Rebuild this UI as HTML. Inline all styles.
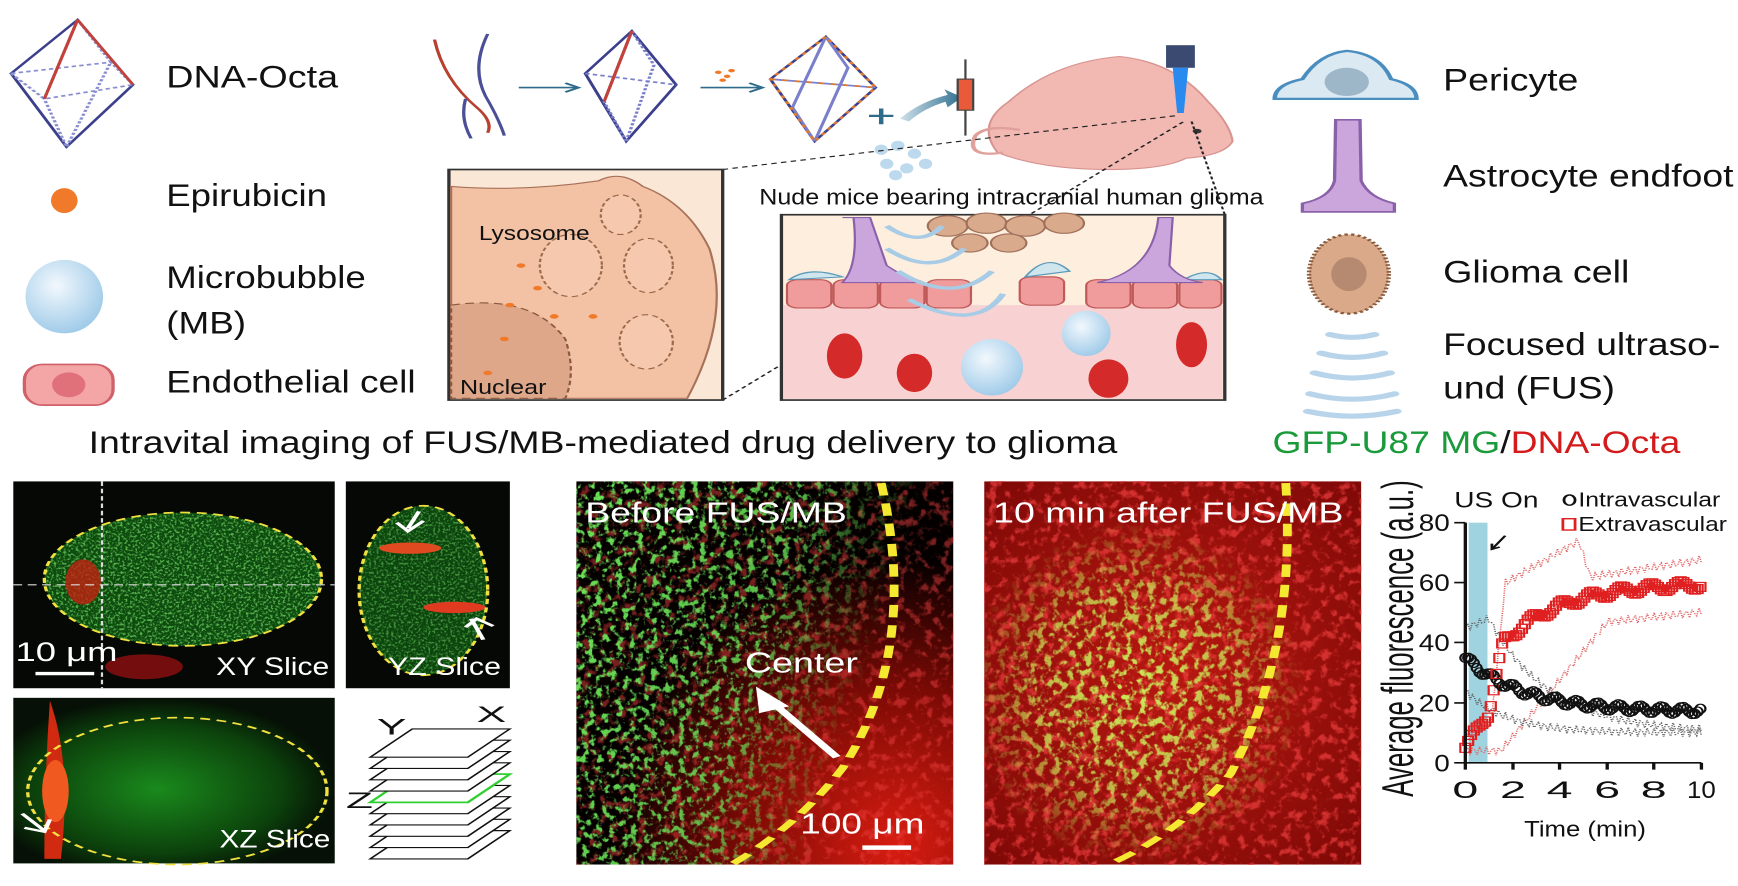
<!DOCTYPE html>
<html><head><meta charset="utf-8">
<style>
html,body{margin:0;padding:0;background:#fff;}
svg{display:block;}
text{font-family:"Liberation Sans",Arial,sans-serif;}
</style></head>
<body>
<svg id="s" width="1738" height="886" viewBox="0 0 1568 1568" preserveAspectRatio="none" xmlns="http://www.w3.org/2000/svg">
<defs>
 <radialGradient id="mb" cx="0.4" cy="0.35" r="0.7"><stop offset="0" stop-color="#f2f8fd"/><stop offset="1" stop-color="#9cc9e8"/></radialGradient>
 <linearGradient id="arr" x1="0" x2="1"><stop offset="0" stop-color="#cfe0ea"/><stop offset="1" stop-color="#2f6f8f"/></linearGradient>
 <filter id="spG" x="0" y="0" width="1" height="1"><feTurbulence type="fractalNoise" baseFrequency="0.16 0.08" numOctaves="3" seed="4"/><feColorMatrix values="0 0 0 0 0.15  0 0 0 0 0.8  0 0 0 0 0.1  6 0 0 0 -3.1"/></filter>
 <filter id="spG2" x="0" y="0" width="1" height="1"><feTurbulence type="fractalNoise" baseFrequency="0.14 0.07" numOctaves="3" seed="9"/><feColorMatrix values="0 0 0 0 0.6  0 0 0 0 0.85  0 0 0 0 0.1  6 0 0 0 -3.0"/></filter>
 <filter id="spR" x="0" y="0" width="1" height="1"><feTurbulence type="fractalNoise" baseFrequency="0.12 0.06" numOctaves="3" seed="2"/><feColorMatrix values="0 0 0 0 0.85  0 0 0 0 0.05  0 0 0 0 0.05  5 0 0 0 -2.6"/></filter>
 <filter id="spF" x="0" y="0" width="1" height="1"><feTurbulence type="fractalNoise" baseFrequency="0.45 0.25" numOctaves="2" seed="5"/><feColorMatrix values="0 0 0 0 0.2  0 0 0 0 0.75  0 0 0 0 0.15  4 0 0 0 -1.9"/></filter>
 <radialGradient id="bRed" cx="0.85" cy="0.95" r="0.75"><stop offset="0" stop-color="#d81c10"/><stop offset="0.55" stop-color="#7a0a05"/><stop offset="1" stop-color="#050000"/></radialGradient>
 <linearGradient id="mL" x1="0" x2="1" y1="0" y2="0.3"><stop offset="0" stop-color="#fff"/><stop offset="0.55" stop-color="#ccc"/><stop offset="0.85" stop-color="#000"/></linearGradient>
 <mask id="mkB"><rect x="520" y="852" width="340" height="678" fill="url(#mL)"/></mask>
 <radialGradient id="mC" cx="0.4" cy="0.55" r="0.45"><stop offset="0" stop-color="#fff"/><stop offset="0.6" stop-color="#bbb"/><stop offset="1" stop-color="#000"/></radialGradient>
 <mask id="mkA"><rect x="888" y="852" width="340" height="678" fill="url(#mC)"/></mask>
 <radialGradient id="aRed" cx="0.5" cy="0.5" r="0.75"><stop offset="0" stop-color="#b81810"/><stop offset="1" stop-color="#7a0806"/></radialGradient>
 <clipPath id="cXY"><ellipse cx="165" cy="1025" rx="125" ry="118"/></clipPath>
 <clipPath id="cYZ"><ellipse cx="382" cy="1045" rx="58" ry="150"/></clipPath>
 <radialGradient id="gXZ" cx="0.45" cy="0.55" r="0.55"><stop offset="0" stop-color="#1a8a1c"/><stop offset="0.7" stop-color="#0c420c"/><stop offset="1" stop-color="#061006"/></radialGradient>
</defs>

<!-- ===== Left legend ===== -->
<g fill="none" stroke-width="3">
 <g stroke="#3b3f8c">
  <path d="M70 35 L10 130 L60 260 L120 150 Z"/>
  <path d="M70 35 L40 175 L60 260 M70 35 L100 110 L60 260 M10 130 L100 110 L120 150 M10 130 L40 175 L120 150" stroke="#8a8fd0" stroke-dasharray="4 3"/>
 </g>
 <path d="M70 35 L120 150 M70 35 L40 175" stroke="#c2413a"/>
</g>
<text x="150" y="155" font-size="56" textLength="155" lengthAdjust="spacingAndGlyphs" fill="#111">DNA-Octa</text>
<ellipse cx="58" cy="355" rx="12" ry="22" fill="#f07a2a"/>
<text x="150" y="365" font-size="56" textLength="145" lengthAdjust="spacingAndGlyphs" fill="#111">Epirubicin</text>
<ellipse cx="58" cy="525" rx="35" ry="65" fill="url(#mb)"/>
<text x="150" y="510" font-size="56" textLength="180" lengthAdjust="spacingAndGlyphs" fill="#111">Microbubble</text>
<text x="150" y="590" font-size="56" textLength="72" lengthAdjust="spacingAndGlyphs" fill="#111">(MB)</text>
<rect x="22" y="645" width="80" height="72" rx="16" ry="28" fill="#f4a6a6" stroke="#d0606a" stroke-width="3"/>
<ellipse cx="62" cy="681" rx="15" ry="22" fill="#e0707a"/>
<text x="150" y="695" font-size="56" textLength="225" lengthAdjust="spacingAndGlyphs" fill="#111">Endothelial cell</text>

<!-- ===== Top scheme ===== -->
<g fill="none" stroke-width="3">
 <path d="M392 70 Q400 140 430 190 Q445 215 440 235" stroke="#b8402e"/>
 <path d="M440 60 Q425 120 438 170 Q450 210 455 240" stroke="#4a4f98"/>
 <path d="M420 175 Q415 210 425 245" stroke="#4a4f98"/>
 <path d="M468 155 L520 155" stroke="#2e6a8a"/><path d="M510 147 L522 155 L510 163" stroke="#2e6a8a"/>
 <g stroke="#3b3f8c"><path d="M570 55 L528 130 L565 250 L610 150 Z"/><path d="M528 130 L610 150 M570 55 L545 180 L565 250 M570 55 L590 115 L565 250" stroke="#7a7fcc" stroke-dasharray="4 3"/></g>
 <path d="M570 55 L545 180" stroke="#c2413a"/>
 <path d="M632 155 L685 155" stroke="#2e6a8a"/><path d="M676 147 L688 155 L676 163" stroke="#2e6a8a"/>
 <g stroke="#3b3f8c"><path d="M745 65 L695 140 L735 250 L790 155 Z"/><path d="M695 140 L790 155 M745 65 L715 190 L735 250 M745 65 L765 120 L735 250" stroke="#7a7fcc"/></g>
 <path d="M745 65 L695 140 L735 250 L790 155 Z M695 140 L790 155" stroke="#e07a30" stroke-dasharray="5 6"/>
 <path d="M784 205 L806 205 M795 192 L795 220" stroke="#2e6a8a" stroke-width="4"/>
</g>
<g fill="#f07a2a"><circle cx="648" cy="128" r="3"/><circle cx="656" cy="135" r="3"/><circle cx="660" cy="125" r="3"/><circle cx="652" cy="142" r="3"/></g>
<g fill="#bcd9ee"><ellipse cx="795" cy="265" rx="6" ry="9"/><ellipse cx="810" cy="258" rx="6" ry="9"/><ellipse cx="825" cy="272" rx="6" ry="9"/><ellipse cx="800" cy="290" rx="6" ry="9"/><ellipse cx="818" cy="298" rx="6" ry="9"/><ellipse cx="835" cy="290" rx="6" ry="9"/><ellipse cx="808" cy="310" rx="6" ry="9"/></g>
<path d="M812 210 Q830 180 855 168 L852 158 L868 172 L855 190 L853 180 Q833 192 820 215 Z" fill="url(#arr)"/>
<rect x="864" y="140" width="14" height="55" fill="#e85a3a" stroke="#444" stroke-width="2"/>
<path d="M871 105 L871 140 M871 195 L871 240" stroke="#444" stroke-width="2"/>
<!-- mouse -->
<path d="M900 270 Q880 220 910 180 Q950 110 1010 100 Q1060 110 1090 180 Q1110 220 1112 250 Q1105 275 1070 280 Q1050 300 1000 300 Q940 300 900 270 Z" fill="#f2b8b2" stroke="#d89490" stroke-width="2"/>
<path d="M905 270 Q870 280 880 240 Q890 220 920 230" fill="none" stroke="#e0a09c" stroke-width="4"/>
<circle cx="1080" cy="232" r="4" fill="#333"/>
<rect x="1052" y="80" width="26" height="40" fill="#3a4a70"/>
<path d="M1058 120 L1072 120 L1068 200 L1062 200 Z" fill="#2a8af0"/>
<text x="685" y="362" font-size="40" textLength="455" lengthAdjust="spacingAndGlyphs" fill="#111">Nude mice bearing intracranial human glioma</text>
<g stroke="#222" stroke-width="2" stroke-dasharray="5 4" fill="none">
 <path d="M652 300 L1060 205"/><path d="M652 708 L1068 215"/><path d="M1075 215 L1105 380"/>
</g>
<!-- left inset -->
<rect x="405" y="300" width="247" height="408" fill="#fbe7d6" stroke="#333" stroke-width="3"/>
<path d="M407 330 Q470 340 540 320 Q560 300 580 330 Q620 360 640 440 Q660 560 620 705 L407 705 Z" fill="#f3c2a4" stroke="#a8725a" stroke-width="2"/>
<path d="M407 540 Q480 520 510 600 Q520 660 510 705 L407 705 Z" fill="#dfa78a" stroke="#8a5a40" stroke-width="2" stroke-dasharray="8 5"/>
<g fill="#f6c9ae" stroke="#9a6a4a" stroke-width="2" stroke-dasharray="6 4"><ellipse cx="515" cy="470" rx="28" ry="55"/><ellipse cx="585" cy="470" rx="22" ry="48"/><ellipse cx="583" cy="605" rx="24" ry="48"/><ellipse cx="560" cy="380" rx="18" ry="35"/></g>
<g fill="#f07a2a"><circle cx="470" cy="470" r="4"/><circle cx="485" cy="510" r="4"/><circle cx="455" cy="600" r="4"/><circle cx="440" cy="660" r="4"/><circle cx="500" cy="560" r="4"/><circle cx="535" cy="560" r="4"/><circle cx="460" cy="540" r="4"/></g>
<text x="432" y="425" font-size="36" textLength="100" lengthAdjust="spacingAndGlyphs" fill="#111">Lysosome</text>
<text x="415" y="697" font-size="36" textLength="78" lengthAdjust="spacingAndGlyphs" fill="#111">Nuclear</text>
<!-- right inset -->
<rect x="705" y="380" width="400" height="328" fill="#fdeede" stroke="#333" stroke-width="3"/>
<rect x="707" y="540" width="396" height="166" fill="#f8d2d2"/>
<g fill="#f09c9c" stroke="#c05a5a" stroke-width="2">
 <rect x="710" y="495" width="40" height="50" rx="10"/><rect x="752" y="495" width="40" height="50" rx="10"/><rect x="794" y="495" width="40" height="50" rx="10"/><rect x="836" y="495" width="40" height="50" rx="10"/><rect x="920" y="490" width="40" height="50" rx="10"/><rect x="980" y="495" width="40" height="50" rx="10"/><rect x="1022" y="495" width="40" height="50" rx="10"/><rect x="1064" y="495" width="38" height="50" rx="10"/>
</g>
<g fill="#cfe6ee" stroke="#5a9ab8" stroke-width="2"><path d="M712 495 Q730 470 760 490 Z"/><path d="M925 490 Q945 445 965 480 Z"/><path d="M1068 495 Q1090 470 1102 495 Z"/></g>
<g fill="#caa6dc" stroke="#8a60a8" stroke-width="2"><path d="M760 385 L785 385 L800 470 Q820 495 830 500 L760 500 Q775 470 770 385 Z"/><path d="M1045 385 L1058 385 L1055 470 Q1065 495 1085 500 L990 500 Q1040 480 1045 385 Z"/></g>
<g fill="#d9ab8c" stroke="#a0705a" stroke-width="2"><circle cx="855" cy="400" r="18"/><circle cx="890" cy="395" r="18"/><circle cx="925" cy="400" r="18"/><circle cx="960" cy="395" r="18"/><circle cx="875" cy="430" r="16"/><circle cx="910" cy="430" r="16"/></g>
<g fill="none" stroke="#a8cbe6" stroke-width="6"><path d="M800 400 Q830 440 850 400"/><path d="M800 440 Q840 490 870 440"/><path d="M810 480 Q860 540 895 480"/><path d="M820 530 Q880 590 905 520"/></g>
<g fill="#d42a2a"><ellipse cx="762" cy="630" rx="16" ry="40"/><ellipse cx="825" cy="660" rx="16" ry="34"/><ellipse cx="1000" cy="670" rx="18" ry="34"/><ellipse cx="1075" cy="610" rx="14" ry="40"/></g>
<ellipse cx="895" cy="650" rx="28" ry="50" fill="url(#mb)"/>
<ellipse cx="980" cy="590" rx="22" ry="40" fill="url(#mb)"/>

<!-- ===== Right legend ===== -->
<path d="M1150 175 Q1150 150 1175 140 Q1190 95 1215 90 Q1245 95 1255 140 Q1278 150 1278 175 Z" fill="#dbe9f3" stroke="#4a8ec0" stroke-width="4"/>
<ellipse cx="1215" cy="145" rx="20" ry="25" fill="#9db6c8"/>
<text x="1302" y="160" font-size="56" textLength="122" lengthAdjust="spacingAndGlyphs" fill="#111">Pericyte</text>
<path d="M1205 212 L1227 212 L1228 320 Q1235 350 1258 360 L1258 375 L1175 375 L1175 360 Q1200 350 1204 320 Z" fill="#caa6dc" stroke="#8a60a8" stroke-width="3"/>
<text x="1302" y="330" font-size="56" textLength="262" lengthAdjust="spacingAndGlyphs" fill="#111">Astrocyte endfoot</text>
<ellipse cx="1217" cy="485" rx="36" ry="70" fill="#d9a98a" stroke="#8a5a3a" stroke-width="4" stroke-dasharray="3 3"/>
<ellipse cx="1217" cy="485" rx="16" ry="30" fill="#b68a70"/>
<text x="1302" y="500" font-size="56" textLength="168" lengthAdjust="spacingAndGlyphs" fill="#111">Glioma cell</text>
<g fill="none" stroke="#b8d4ea" stroke-width="9" stroke-linecap="round">
 <path d="M1200 592 Q1220 602 1240 592"/><path d="M1192 625 Q1220 640 1248 625"/><path d="M1186 660 Q1220 678 1254 660"/><path d="M1182 697 Q1220 716 1258 697"/><path d="M1180 728 Q1220 745 1260 728"/>
</g>
<text x="1302" y="628" font-size="56" textLength="250" lengthAdjust="spacingAndGlyphs" fill="#111">Focused ultraso-</text>
<text x="1302" y="705" font-size="56" textLength="155" lengthAdjust="spacingAndGlyphs" fill="#111">und (FUS)</text>

<!-- ===== Titles ===== -->
<text x="80" y="802" font-size="56" textLength="928" lengthAdjust="spacingAndGlyphs" fill="#111">Intravital imaging of FUS/MB-mediated drug delivery to glioma</text>
<text x="1148" y="802" font-size="56" textLength="368" lengthAdjust="spacingAndGlyphs"><tspan fill="#1a9a3a">GFP-U87 MG</tspan><tspan fill="#111">/</tspan><tspan fill="#d41a1a">DNA-Octa</tspan></text>

<!-- ===== XY slice ===== -->
<rect x="12" y="852" width="290" height="366" fill="#050805"/>
<ellipse cx="165" cy="1025" rx="125" ry="118" fill="#0c4a0e"/>
<rect x="40" y="905" width="250" height="240" filter="url(#spF)" clip-path="url(#cXY)" opacity="0.7"/>
<ellipse cx="75" cy="1030" rx="16" ry="40" fill="#c02010" opacity="0.8"/>
<ellipse cx="130" cy="1180" rx="35" ry="22" fill="#901010" opacity="0.8"/>
<ellipse cx="165" cy="1025" rx="125" ry="118" fill="none" stroke="#f0e040" stroke-width="3" stroke-dasharray="9 6"/>
<path d="M92 852 L92 1218 M12 1035 L302 1035" stroke="#ddd" stroke-width="2" stroke-dasharray="8 5"/>
<path d="M32 1192 L85 1192" stroke="#fff" stroke-width="6"/>
<text x="14" y="1170" font-size="48" textLength="92" lengthAdjust="spacingAndGlyphs" fill="#fff">10 μm</text>
<text x="195" y="1195" font-size="44" textLength="102" lengthAdjust="spacingAndGlyphs" fill="#fff">XY Slice</text>
<!-- YZ -->
<rect x="312" y="852" width="148" height="366" fill="#050805"/>
<ellipse cx="382" cy="1045" rx="58" ry="150" fill="#0b440d"/>
<rect x="322" y="895" width="120" height="300" filter="url(#spF)" clip-path="url(#cYZ)" opacity="0.5"/>
<ellipse cx="370" cy="970" rx="28" ry="10" fill="#e04a20"/>
<ellipse cx="410" cy="1075" rx="28" ry="10" fill="#e03a20"/>
<ellipse cx="382" cy="1045" rx="58" ry="150" fill="none" stroke="#f0e040" stroke-width="3" stroke-dasharray="9 6"/>
<path d="M378 905 L368 935 M358 925 L368 940 L382 922" stroke="#fff" stroke-width="4" fill="none"/>
<path d="M425 1095 L436 1132 M420 1110 L430 1095 L445 1108" stroke="#fff" stroke-width="4" fill="none"/>
<text x="350" y="1195" font-size="44" textLength="102" lengthAdjust="spacingAndGlyphs" fill="#fff">YZ Slice</text>
<!-- XZ -->
<rect x="12" y="1235" width="290" height="293" fill="url(#gXZ)"/>
<path d="M45 1240 Q65 1350 55 1520 L40 1520 Q40 1380 45 1240 Z" fill="#d02a10"/>
<ellipse cx="50" cy="1400" rx="12" ry="55" fill="#f05a20"/>
<ellipse cx="160" cy="1400" rx="135" ry="130" fill="none" stroke="#f0e040" stroke-width="3" stroke-dasharray="9 6"/>
<path d="M20 1440 L40 1470 M22 1465 L40 1472 L45 1450" stroke="#fff" stroke-width="4" fill="none"/>
<text x="198" y="1500" font-size="44" textLength="100" lengthAdjust="spacingAndGlyphs" fill="#fff">XZ Slice</text>
<!-- stack -->
<g id="stk" fill="#fff" stroke="#111" stroke-width="2"></g>
<text x="340" y="1300" font-size="40" fill="#111">Y</text>
<text x="430" y="1278" font-size="40" fill="#111">X</text>
<text x="312" y="1430" font-size="40" fill="#111">Z</text>

<!-- ===== Before FUS/MB ===== -->
<rect x="520" y="852" width="340" height="678" fill="url(#bRed)"/>
<rect x="520" y="852" width="340" height="678" filter="url(#spR)" opacity="0.5"/>
<rect x="520" y="852" width="340" height="678" filter="url(#spG)" mask="url(#mkB)"/>
<path d="M795 855 Q830 1150 760 1360 Q720 1460 660 1530" fill="none" stroke="#f5e830" stroke-width="8" stroke-dasharray="22 14"/>
<text x="528" y="925" font-size="50" textLength="236" lengthAdjust="spacingAndGlyphs" fill="#fff">Before FUS/MB</text>
<text x="672" y="1190" font-size="50" textLength="102" lengthAdjust="spacingAndGlyphs" fill="#fff">Center</text>
<path d="M755 1340 L695 1240" stroke="#fff" stroke-width="8"/><path d="M682 1215 L712 1250 L685 1262 Z" fill="#fff"/>
<text x="722" y="1475" font-size="50" textLength="112" lengthAdjust="spacingAndGlyphs" fill="#fff">100 μm</text>
<path d="M778 1500 L822 1500" stroke="#fff" stroke-width="8"/>

<!-- ===== After ===== -->
<rect x="888" y="852" width="340" height="678" fill="url(#aRed)"/>
<rect x="888" y="852" width="340" height="678" filter="url(#spR)" opacity="0.7"/>
<rect x="888" y="852" width="340" height="678" filter="url(#spG2)" mask="url(#mkA)"/>
<path d="M1160 855 Q1170 1150 1110 1370 Q1060 1480 1000 1530" fill="none" stroke="#f5e830" stroke-width="8" stroke-dasharray="22 14"/>
<text x="896" y="925" font-size="50" textLength="316" lengthAdjust="spacingAndGlyphs" fill="#fff">10 min after FUS/MB</text>

<!-- ===== Chart ===== -->
<rect x="1325" y="925" width="17" height="425" fill="#9fd3df"/>
<g id="chart"></g>
<path d="M1322 925 L1322 1350 L1535 1350" fill="none" stroke="#111" stroke-width="3"/>
<g stroke="#111" stroke-width="3">
 <path d="M1312 925 L1322 925 M1312 1031 L1322 1031 M1312 1137 L1322 1137 M1312 1244 L1322 1244 M1312 1350 L1322 1350"/>
 <path d="M1322 1350 L1322 1362 M1365 1350 L1365 1362 M1407 1350 L1407 1362 M1450 1350 L1450 1362 M1492 1350 L1492 1362 M1535 1350 L1535 1362"/>
</g>
<g font-size="42" fill="#111" text-anchor="end">
 <text x="1308" y="940" textLength="28" lengthAdjust="spacingAndGlyphs">80</text><text x="1308" y="1046" textLength="28" lengthAdjust="spacingAndGlyphs">60</text><text x="1308" y="1152" textLength="28" lengthAdjust="spacingAndGlyphs">40</text><text x="1308" y="1259" textLength="28" lengthAdjust="spacingAndGlyphs">20</text><text x="1308" y="1365" textLength="14" lengthAdjust="spacingAndGlyphs">0</text>
</g>
<g font-size="42" fill="#111" text-anchor="middle">
 <text x="1322" y="1412">0</text><text x="1365" y="1412">2</text><text x="1407" y="1412">4</text><text x="1450" y="1412">6</text><text x="1492" y="1412">8</text><text x="1535" y="1412" textLength="26" lengthAdjust="spacingAndGlyphs">10</text>
</g>
<text x="1375" y="1480" font-size="40" textLength="110" lengthAdjust="spacingAndGlyphs" fill="#111">Time (min)</text>
<text transform="translate(1275,1410) rotate(-90)" font-size="40" textLength="560" lengthAdjust="spacingAndGlyphs" fill="#111">Average fluorescence (a.u.)</text>
<text x="1312" y="898" font-size="40" textLength="76" lengthAdjust="spacingAndGlyphs" fill="#111">US On</text>
<ellipse cx="1416" cy="885" rx="5" ry="9" fill="none" stroke="#111" stroke-width="2.5"/>
<text x="1424" y="896" font-size="36" textLength="128" lengthAdjust="spacingAndGlyphs" fill="#111">Intravascular</text>
<rect x="1410" y="918" width="11" height="20" fill="none" stroke="#e02020" stroke-width="2.5"/>
<text x="1424" y="940" font-size="36" textLength="134" lengthAdjust="spacingAndGlyphs" fill="#111">Extravascular</text>
<path d="M1358 948 L1346 972 M1346 962 L1346 972 L1353 968" stroke="#111" stroke-width="2.5" fill="none"/>
</svg>
<script>
(function(){
 var NS="http://www.w3.org/2000/svg";
 var stk=document.getElementById("stk");
 for(var i=9;i>=0;i--){
  var y=1290+i*20;
  var p=document.createElementNS(NS,"path");
  p.setAttribute("d","M334 "+(y+50)+" L372 "+y+" L460 "+y+" L422 "+(y+50)+" Z");
  if(i==4){p.setAttribute("stroke","#30d030");p.setAttribute("stroke-width","3");}
  stk.appendChild(p);
 }
 var g=document.getElementById("chart");
 function X(t){return 1322+21.3*t;} function Y(v){return 1350-5.31*v;}
 function line(f,col){var d="";for(var t=0;t<=10.001;t+=0.1){var w=Math.sin(t*23)*1.5;d+=(t==0?"M":"L")+X(t).toFixed(1)+" "+Y(f(t)+w).toFixed(1)+" ";}
  var p=document.createElementNS(NS,"path");p.setAttribute("d",d);p.setAttribute("fill","none");p.setAttribute("stroke",col);p.setAttribute("stroke-width","1.5");p.setAttribute("stroke-dasharray","2 2");g.appendChild(p);}
 function ext(t){return t<1?5+12*t:(t<1.6?17+38*(t-1):40+20*(1-Math.exp(-(t-1.6)/2.5)));}
 function intr(t){return 17+18*Math.exp(-t/2.5);}
 line(function(t){if(t<1.1)return 8+5*t;if(t<1.7)return 13+80*(t-1.1);if(t<4.8)return 60+4.5*(t-1.7);if(t<5.3)return 74-24*(t-4.8);return 62+1.2*(t-5.3);},"#e06a6a");
 line(function(t){if(t<1.5)return 4;if(t<6)return 4+9.5*(t-1.5);return 47+0.8*(t-6);},"#e06a6a");
 line(function(t){if(t<1)return 45+3*t;return 10+38*Math.exp(-(t-1)/2.6);},"#666");
 line(function(t){return 10+14*Math.exp(-t/1.8);},"#666");
 for(var t=0;t<=10;t+=0.12){
  var c=document.createElementNS(NS,"ellipse");c.setAttribute("cx",X(t));c.setAttribute("cy",Y(intr(t)+Math.sin(t*7)*1.2));c.setAttribute("rx",4.5);c.setAttribute("ry",8);c.setAttribute("fill","none");c.setAttribute("stroke","#111");c.setAttribute("stroke-width","2");g.appendChild(c);
  var r=document.createElementNS(NS,"rect");var v=ext(t)+Math.sin(t*5)*1.5;r.setAttribute("x",X(t)-4.5);r.setAttribute("y",Y(v)-8);r.setAttribute("width",9);r.setAttribute("height",16);r.setAttribute("fill","none");r.setAttribute("stroke","#e02020");r.setAttribute("stroke-width","2");g.appendChild(r);
 }
})();
</script>
</body></html>
